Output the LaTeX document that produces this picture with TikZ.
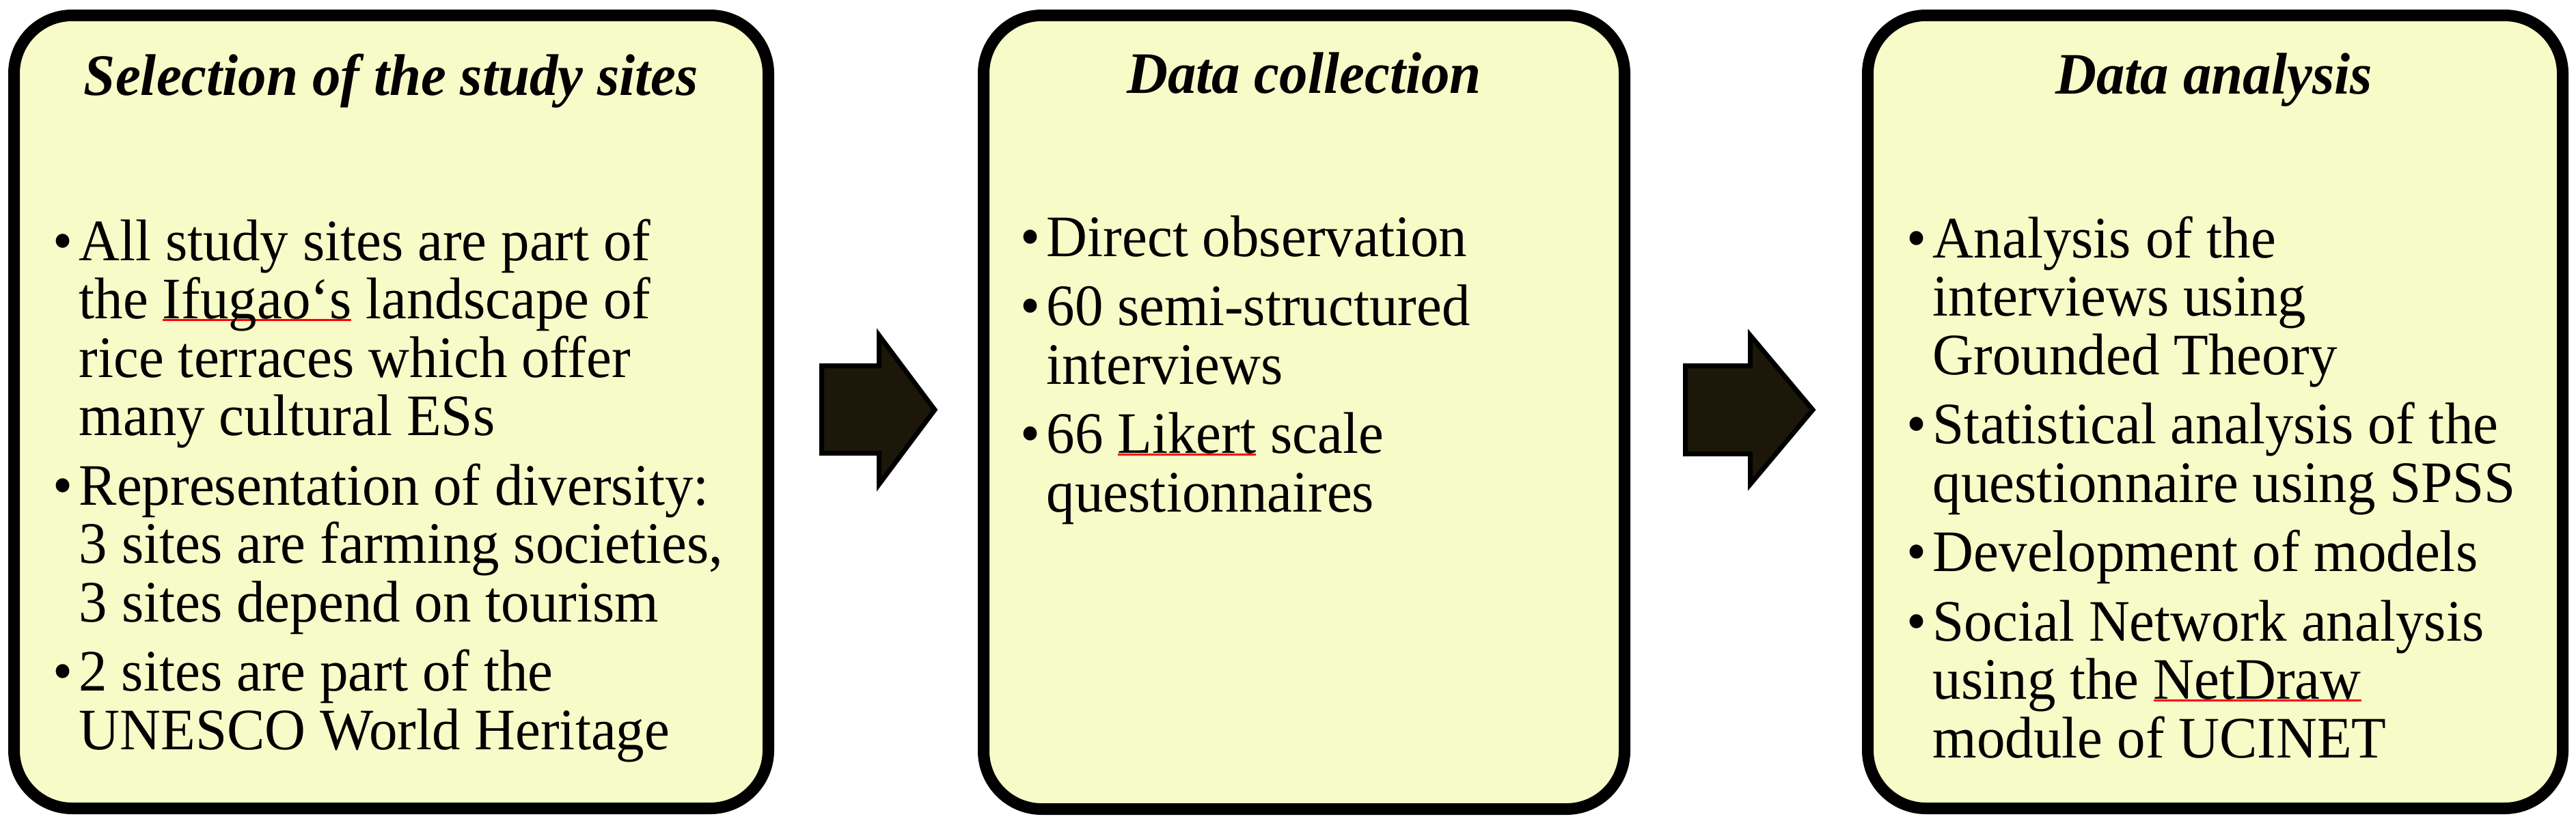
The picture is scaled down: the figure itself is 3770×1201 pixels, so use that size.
\documentclass[tikz,border=0pt]{standalone}
\usepackage{fontspec}
\setmainfont{Liberation Serif}[FakeStretch=0.965]
\usepackage{xcolor}
\newlength\px \setlength\px{0.25pt}
\definecolor{boxfill}{RGB}{247,251,199}
\definecolor{arrowfill}{RGB}{28,23,8}
\newcommand\redul[1]{\setbox0=\hbox{#1}\rlap{\textcolor{red}{\rule[-3\px]{\wd0}{3\px}}}#1}
\newcommand\bul{\leavevmode\llap{\textbullet\hspace{9\px}}}
\newcommand\bodyfont{\fontsize{21.5pt}{21.375pt}\selectfont}
\newcommand\pgap{\\[4pt]}
\begin{document}
\begin{tikzpicture}[x=0.25pt,y=-0.25pt,
  stagebox/.style={draw=black, fill=boxfill, line width=17\px, rounded corners=85\px, inner sep=0pt},
  titletext/.style={font=\bodyfont\bfseries\itshape, anchor=base, inner sep=0pt},
  bodytext/.style={anchor=base west, inner sep=0pt},
  blockarrow/.style={draw=black, fill=arrowfill, line width=7\px, line join=miter}]
\useasboundingbox (0,0) rectangle (3770,1201);

% boxes
\node[stagebox, minimum width=1104\px, minimum height=1161\px] (box1) at (572.5,603) {};
\node[stagebox, minimum width=938\px, minimum height=1162\px] (box2) at (1908.5,603.5) {};
\node[stagebox, minimum width=1017\px, minimum height=1161\px] (box3) at (3242,603) {};

% titles
\node[titletext] (t1) at (572.5,139) {Selection of the study sites};
\node[titletext] (t2) at (1908.5,136) {Data collection};
\node[titletext] (t3) at (3240,137) {Data analysis};

% bodies
\node[bodytext] (b1) at (115,381) {\parbox[t]{1100\px}{\bodyfont\raggedright
\bul All study sites are part of\\
the \redul{Ifugao‘s} landscape of\\
rice terraces which offer\\
many cultural ESs\pgap
\bul Representation of diversity:\\
3 sites are farming societies,\\
3 sites depend on tourism\pgap
\bul 2 sites are part of the\\
UNESCO World Heritage}};

\node[bodytext] (b2) at (1531,375) {\parbox[t]{850\px}{\bodyfont\raggedright
\bul Direct observation\pgap
\bul 60 semi-structured\\
interviews\pgap
\bul 66 \redul{Likert} scale\\
questionnaires}};

\node[bodytext] (b3) at (2828,377) {\parbox[t]{920\px}{\bodyfont\raggedright
\bul Analysis of the\\
interviews using\\
Grounded Theory\pgap
\bul Statistical analysis of the\\
questionnaire using SPSS\pgap
\bul Development of models\pgap
\bul Social Network analysis\\
using the \redul{NetDraw}\\
module of UCINET}};

% block arrows
\draw[blockarrow] (1202.5,535.5) -- (1286.5,535.5) -- (1286.5,491) -- (1368,600)
  -- (1286.5,709) -- (1286.5,663.5) -- (1202.5,663.5) -- cycle;
\draw[blockarrow] (2466.5,535.5) -- (2561.5,535.5) -- (2561.5,491) -- (2653,600)
  -- (2561.5,709) -- (2561.5,664.5) -- (2466.5,664.5) -- cycle;
\end{tikzpicture}
\end{document}
